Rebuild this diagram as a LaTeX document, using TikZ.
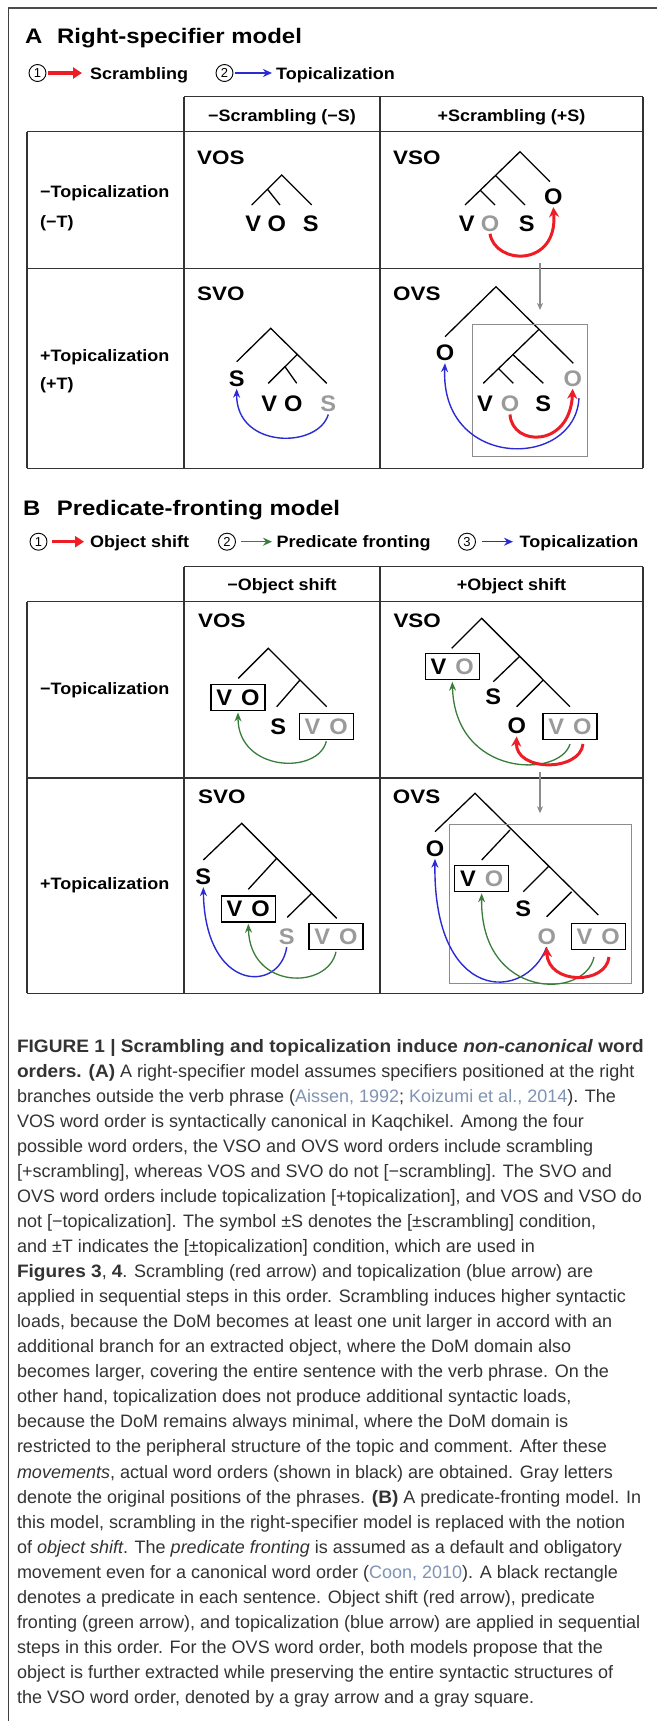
\documentclass[tikz,border=0pt]{standalone}
\usepackage{fontspec}
\setmainfont{Liberation Sans}
\newfontfamily\figf[FakeStretch=1.09]{Liberation Sans}
\newfontfamily\titf[FakeStretch=1.14]{Liberation Sans}
\newfontfamily\wlf[FakeStretch=1.15]{Liberation Sans}
\newfontfamily\letf[FakeStretch=1.05]{Liberation Sans}
\newfontfamily\capf[BoldFeatures={FakeStretch=1.06},BoldItalicFeatures={FakeStretch=1.06}]{Liberation Sans}
\newfontfamily\digf{Liberation Sans}
\usetikzlibrary{arrows.meta}
\definecolor{citec}{HTML}{7F93B5}
\definecolor{capc}{HTML}{333333}
\definecolor{gl}{HTML}{9A9A9A}
\definecolor{redA}{HTML}{EE1C25}
\definecolor{blueA}{HTML}{2B2BD6}
\definecolor{greenA}{HTML}{3A7D3A}
\definecolor{grayA}{HTML}{8C8C8C}
\definecolor{gridc}{HTML}{333333}
\newcommand\capline[2]{\node[capl] (cap#1) at (16.8,{1052+25.06*(#1-1)}) {#2};}
\newcommand\cit[1]{\textcolor{citec}{#1}}
\begin{document}
\begin{tikzpicture}[x=1pt,y=-1pt,
  tl/.style={draw=black, line width=1.3pt},
  gridl/.style={draw=gridc, line width=1.3pt},
  hdr/.style={font=\figf\bfseries\fontsize{16.5}{18}\selectfont, inner sep=0pt},
  tit/.style={font=\titf\bfseries\fontsize{21}{22}\selectfont, inner sep=0pt, anchor=base west},
  wl/.style={font=\wlf\bfseries\fontsize{19.5}{20}\selectfont, inner sep=0pt, anchor=base west},
  lt/.style={font=\letf\bfseries\fontsize{22.5}{24}\selectfont, inner sep=0pt, outer sep=2.5pt},
  glt/.style={lt, text=gl},
  vob/.style={draw=black, line width=1.4pt, minimum width=54pt, minimum height=26pt, inner sep=0pt, outer sep=2pt, font=\letf\bfseries\fontsize{22.5}{24}\selectfont},
  gbox/.style={draw=grayA, line width=1pt},
  redarr/.style={draw=redA, line width=3pt, -{Stealth[length=10pt,width=10pt]}},
  bluearr/.style={draw=blueA, line width=1.4pt, -{Stealth[length=9pt,width=7pt]}},
  greenarr/.style={draw=greenA, line width=1.3pt, -{Stealth[length=9pt,width=7pt]}},
  grayarr/.style={draw=grayA, line width=1.2pt, -{Stealth[length=7pt,width=6pt,inset=2pt]}},
  dig/.style={circle, draw=black, line width=0.9pt, minimum size=17pt, inner sep=0pt, font=\digf\fontsize{13}{13}\selectfont},
  legred/.style={draw=redA, line width=3.5pt, -{Triangle[length=9pt,width=11pt]}},
  legblue/.style={draw=blueA, line width=1.5pt, -{Stealth[length=9pt,width=8pt]}},
  leggreen/.style={draw=greenA, line width=1.5pt, -{Stealth[length=9pt,width=8pt]}},
  capl/.style={anchor=base west, inner sep=0pt, font=\capf\fontsize{18}{25}\selectfont, text=capc}
]
\useasboundingbox (0,0) rectangle (657,1721);
\fill[white] (0,0) rectangle (657,1721);
% outer frame
\coordinate (fr0) at (8.4,8.3);
\coordinate (fr1) at (657,8.3);
\coordinate (fr2) at (8.4,1721);
\draw[line width=2pt, draw=black!70] (fr0) -- (fr1);
\draw[line width=1.3pt, draw=black!75] (fr0) -- (fr2);

%================ PANEL A ================
\node[tit] (tA) at (25,43) {A};
\node[tit] (tAt) at (57,43) {Right-specifier model};
% legend A
\node[dig] (lA1) at (37.5,73) {1};
\coordinate (lA1a) at (48,73); \coordinate (lA1b) at (82,73);
\draw[legred] (lA1a) -- (lA1b);
\node[hdr, anchor=base west] (lA1t) at (90,79) {Scrambling};
\node[dig] (lA2) at (224.5,73) {2};
\coordinate (lA2a) at (235,73); \coordinate (lA2b) at (272,73);
\draw[legblue] (lA2a) -- (lA2b);
\node[hdr, anchor=base west] (lA2t) at (276,79) {Topicalization};
% table A
\draw[gridl] (184,96.7) -- (643,96.7);
\draw[gridl] (27,131.7) -- (643,131.7);
\draw[gridl] (27,268.3) -- (643,268.3);
\draw[gridl] (27,468.3) -- (643,468.3);
\draw[gridl] (27,131.7) -- (27,468.3);
\draw[gridl] (184,96.7) -- (184,468.3);
\draw[gridl] (380,96.7) -- (380,468.3);
\draw[gridl] (643,96.7) -- (643,468.3);
\node[hdr, anchor=base] (hA1) at (282,121) {−Scrambling (−S)};
\node[hdr, anchor=base] (hA2) at (511.5,121) {+Scrambling (+S)};
\node[hdr, anchor=base west] (rA1) at (40,197.7) {−Topicalization};
\node[hdr, anchor=base west] (rA1b) at (40,227.7) {(−T)};
\node[hdr, anchor=base west] (rA2) at (40,361) {+Topicalization};
\node[hdr, anchor=base west] (rA2b) at (40,389.3) {(+T)};
\node[wl] (wA1) at (197,164) {VOS};
\node[wl] (wA2) at (393,164) {VSO};
\node[wl] (wA3) at (197,300.3) {SVO};
\node[wl] (wA4) at (393,300.3) {OVS};

% A1: VOS tree
\coordinate (A1r) at (281.7,175); \coordinate (A1l) at (251.7,205);
\coordinate (A1s) at (311.7,205); \coordinate (A1m) at (267.3,189);
\coordinate (A1o) at (280,205);
\draw[tl] (A1l) -- (A1r) -- (A1s) (A1m) -- (A1o);
\node[lt] (A1V) at (253.3,223.3) {V};
\node[lt] (A1O) at (276.7,223.3) {O};
\node[lt] (A1S) at (310.7,223.3) {S};

% A2: VSO tree
\coordinate (A2r) at (520,151.7); \coordinate (A2l) at (465,205);
\coordinate (A2ro) at (550,181.7);
\coordinate (A2m1) at (495,175); \coordinate (A2s) at (525,205);
\coordinate (A2m2) at (480,190); \coordinate (A2o) at (495,205);
\draw[tl] (A2l) -- (A2r) -- (A2ro) (A2m1) -- (A2s) (A2m2) -- (A2o);
\node[lt] (A2V) at (466.7,223.3) {V};
\node[glt] (A2gO) at (490,223.3) {O};
\node[lt] (A2S) at (526.7,223.3) {S};
\node[lt] (A2O) at (553.3,196.7) {O};
\draw[redarr] (A2gO.south) .. controls (495,265) and (558,268) .. (A2O.south);

% A3: SVO tree
\coordinate (A3r) at (270.7,328.3); \coordinate (A3l) at (236.7,361.7);
\coordinate (A3rr) at (326.7,383.3);
\coordinate (A3m1) at (296.7,355); \coordinate (A3v) at (268.3,383.3);
\coordinate (A3m2) at (285,366.7); \coordinate (A3o) at (296.7,383.3);
\draw[tl] (A3l) -- (A3r) -- (A3rr) (A3m1) -- (A3v) (A3m2) -- (A3o);
\node[lt] (A3S) at (236.7,378.3) {S};
\node[lt] (A3V) at (269.3,404) {V};
\node[lt] (A3O) at (293.3,404) {O};
\node[glt] (A3gS) at (328.3,404) {S};
\draw[bluearr] (A3gS.south) .. controls (318,449) and (236,449) .. (A3S.south);

% A4: OVS tree
\coordinate (A4r) at (496,286.7); \coordinate (A4l) at (445,336.7);
\coordinate (A4rr) at (573.3,363.3);
\coordinate (A4m1) at (538.3,330); \coordinate (A4v) at (483.3,383.3);
\coordinate (A4m2) at (513.3,355); \coordinate (A4s) at (543.3,383.3);
\coordinate (A4m3) at (498.3,368.3); \coordinate (A4o) at (513.3,383.3);
\draw[tl] (A4l) -- (A4r) -- (A4rr) (A4m1) -- (A4v) (A4m2) -- (A4s) (A4m3) -- (A4o);
\draw[gbox] (472.7,324) rectangle (587.3,456);
\node[lt] (A4O) at (445,352.7) {O};
\node[glt] (A4gO1) at (572.7,378.3) {O};
\node[lt] (A4V) at (485,404) {V};
\node[glt] (A4gO2) at (510,404) {O};
\node[lt] (A4S) at (543.3,404) {S};
\draw[redarr] (A4gO2.south) .. controls (512,447) and (570,448) .. (A4gO1.south);
\coordinate (A4bs) at (579,398);
\draw[bluearr] (A4bs) .. controls (575,470) and (440,470) .. (A4O.south);
\coordinate (gA1) at (540,263.3); \coordinate (gA2) at (540,310);
\draw[grayarr] (gA1) -- (gA2);

%================ PANEL B ================
\node[tit] (tB) at (23,515) {B};
\node[tit] (tBt) at (56.6,515) {Predicate-fronting model};
\node[dig] (lB1) at (38.5,541.7) {1};
\coordinate (lB1a) at (52,541.7); \coordinate (lB1b) at (84,541.7);
\draw[legred] (lB1a) -- (lB1b);
\node[hdr, anchor=base west] (lB1t) at (90,547.7) {Object shift};
\node[dig] (lB2) at (227,541.7) {2};
\coordinate (lB2a) at (241,541.7); \coordinate (lB2b) at (272,541.7);
\draw[leggreen] (lB2a) -- (lB2b);
\node[hdr, anchor=base west] (lB2t) at (276.5,547.7) {Predicate fronting};
\node[dig] (lB3) at (467,541.7) {3};
\coordinate (lB3a) at (482,541.7); \coordinate (lB3b) at (513,541.7);
\draw[legblue] (lB3a) -- (lB3b);
\node[hdr, anchor=base west] (lB3t) at (519.5,547.7) {Topicalization};
% table B
\draw[gridl] (184,566.7) -- (643,566.7);
\draw[gridl] (27,601.7) -- (643,601.7);
\draw[gridl] (27,778) -- (643,778);
\draw[gridl] (27,993.3) -- (643,993.3);
\draw[gridl] (27,601.7) -- (27,993.3);
\draw[gridl] (184,566.7) -- (184,993.3);
\draw[gridl] (380,566.7) -- (380,993.3);
\draw[gridl] (643,566.7) -- (643,993.3);
\node[hdr, anchor=base] (hB1) at (282,590) {−Object shift};
\node[hdr, anchor=base] (hB2) at (511.5,590) {+Object shift};
\node[hdr, anchor=base west] (rB1) at (40,694.3) {−Topicalization};
\node[hdr, anchor=base west] (rB2) at (40,889.3) {+Topicalization};
\node[wl] (wB1) at (198,627) {VOS};
\node[wl] (wB2) at (393.3,627) {VSO};
\node[wl] (wB3) at (198,803.7) {SVO};
\node[wl] (wB4) at (392.7,803.7) {OVS};

% B1: VOS
\coordinate (B1r) at (268.3,648.3); \coordinate (B1l) at (238.3,678.3);
\coordinate (B1rr) at (326.7,706.7);
\coordinate (B1m) at (300,680); \coordinate (B1s) at (276.7,706.7);
\draw[tl] (B1l) -- (B1r) -- (B1rr) (B1m) -- (B1s);
\node[vob] (B1VO) at (238,697.5) {V\hspace{9pt}O};
\node[lt] (B1S) at (278.3,726.7) {S};
\node[vob] (B1gVO) at (326.3,726.3) {\textcolor{gl}{V\hspace{9pt}O}};
\draw[greenarr] (B1gVO.south) .. controls (318,775) and (238,772) .. (B1VO.south);

% B2: VSO
\coordinate (B2r) at (481.7,618.3); \coordinate (B2l) at (451.7,648.3);
\coordinate (B2rr) at (570,706.7);
\coordinate (B2m1) at (519.3,656.7); \coordinate (B2s) at (493.3,681.7);
\coordinate (B2m2) at (543.3,680); \coordinate (B2o) at (516.7,706.7);
\draw[tl] (B2l) -- (B2r) -- (B2rr) (B2m1) -- (B2s) (B2m2) -- (B2o);
\node[vob] (B2VO) at (452.3,666.7) {V\hspace{9pt}\textcolor{gl}{O}};
\node[lt] (B2S) at (493.3,696.7) {S};
\node[lt] (B2O) at (516.7,726) {O};
\node[vob] (B2gVO) at (570,726.3) {\textcolor{gl}{V\hspace{9pt}O}};
\coordinate (B2gs) at (570,744);
\coordinate (B2rs) at (583,744);
\draw[greenarr] (B2gs) .. controls (560,778) and (455,778) .. (B2VO.south);
\draw[redarr] (B2rs) .. controls (580,772) and (515,772) .. (B2O.south);
\coordinate (gB1) at (540,771.7); \coordinate (gB2) at (540,813.3);
\draw[grayarr] (gB1) -- (gB2);

% B3: SVO
\coordinate (B3r) at (241.7,823.3); \coordinate (B3l) at (203.3,860);
\coordinate (B3rr) at (336.7,918.3);
\coordinate (B3m1) at (276.7,858.3); \coordinate (B3v) at (248.3,889.3);
\coordinate (B3m2) at (311.7,893.3); \coordinate (B3s) at (287.3,917.3);
\draw[tl] (B3l) -- (B3r) -- (B3rr) (B3m1) -- (B3v) (B3m2) -- (B3s);
\node[lt] (B3S) at (203.3,876.7) {S};
\node[vob] (B3VO) at (248.3,908.8) {V\hspace{9pt}O};
\node[glt] (B3gS) at (286.7,936.7) {S};
\node[vob] (B3gVO) at (336,936.7) {\textcolor{gl}{V\hspace{9pt}O}};
\draw[bluearr] (B3gS.south) .. controls (280,993) and (205,993) .. (B3S.south);
\draw[greenarr] (B3gVO.south) .. controls (328,990) and (250,990) .. (B3VO.south);

% B4: OVS
\coordinate (B4r) at (475,793.3); \coordinate (B4l) at (435,831.7);
\coordinate (B4rr) at (598.3,915);
\coordinate (B4m1) at (510,830); \coordinate (B4v) at (481.7,860);
\coordinate (B4m2) at (548.3,866.7); \coordinate (B4s) at (523.3,891.7);
\coordinate (B4m3) at (571.7,891.7); \coordinate (B4o) at (546.7,916.7);
\draw[tl] (B4l) -- (B4r) -- (B4rr) (B4m1) -- (B4v) (B4m2) -- (B4s) (B4m3) -- (B4o);
\draw[gbox] (449.3,824) rectangle (631.7,983.3);
\node[lt] (B4O) at (435,848.3) {O};
\node[vob] (B4VO) at (481.7,878.3) {V\hspace{9pt}\textcolor{gl}{O}};
\node[lt] (B4S) at (523.3,908.3) {S};
\node[glt] (B4gO) at (546.7,936.7) {O};
\node[vob] (B4gVO) at (598.3,936.7) {\textcolor{gl}{V\hspace{9pt}O}};
\coordinate (B4gs) at (594,957);
\coordinate (B4rs) at (609,957);
\draw[bluearr] (B4gO.south) .. controls (525,1003) and (433,1003) .. (B4O.south);
\draw[greenarr] (B4gs) .. controls (585,1000) and (480,1000) .. (B4VO.south);
\draw[redarr] (B4rs) .. controls (606,985) and (548,985) .. (B4gO.south);

%================ CAPTION ================
\capline{1}{\bfseries FIGURE 1 | Scrambling and topicalization induce \textit{non-canonical} word}
\capline{2}{\textbf{orders. (A)} A right-specifier model assumes specifiers positioned at the right}
\capline{3}{branches outside the verb phrase (\cit{Aissen, 1992}; \cit{Koizumi et al., 2014}). The}
\capline{4}{VOS word order is syntactically canonical in Kaqchikel. Among the four}
\capline{5}{possible word orders, the VSO and OVS word orders include scrambling}
\capline{6}{[+scrambling], whereas VOS and SVO do not [−scrambling]. The SVO and}
\capline{7}{OVS word orders include topicalization [+topicalization], and VOS and VSO do}
\capline{8}{not [−topicalization]. The symbol ±S denotes the [±scrambling] condition,}
\capline{9}{and ±T indicates the [±topicalization] condition, which are used in}
\capline{10}{\textbf{Figures 3}, \textbf{4}. Scrambling (red arrow) and topicalization (blue arrow) are}
\capline{11}{applied in sequential steps in this order. Scrambling induces higher syntactic}
\capline{12}{loads, because the DoM becomes at least one unit larger in accord with an}
\capline{13}{additional branch for an extracted object, where the DoM domain also}
\capline{14}{becomes larger, covering the entire sentence with the verb phrase. On the}
\capline{15}{other hand, topicalization does not produce additional syntactic loads,}
\capline{16}{because the DoM remains always minimal, where the DoM domain is}
\capline{17}{restricted to the peripheral structure of the topic and comment. After these}
\capline{18}{\textit{movements}, actual word orders (shown in black) are obtained. Gray letters}
\capline{19}{denote the original positions of the phrases. \textbf{(B)} A predicate-fronting model. In}
\capline{20}{this model, scrambling in the right-specifier model is replaced with the notion}
\capline{21}{of \textit{object shift}. The \textit{predicate fronting} is assumed as a default and obligatory}
\capline{22}{movement even for a canonical word order (\cit{Coon, 2010}). A black rectangle}
\capline{23}{denotes a predicate in each sentence. Object shift (red arrow), predicate}
\capline{24}{fronting (green arrow), and topicalization (blue arrow) are applied in sequential}
\capline{25}{steps in this order. For the OVS word order, both models propose that the}
\capline{26}{object is further extracted while preserving the entire syntactic structures of}
\capline{27}{the VSO word order, denoted by a gray arrow and a gray square.}
\end{tikzpicture}
\end{document}
